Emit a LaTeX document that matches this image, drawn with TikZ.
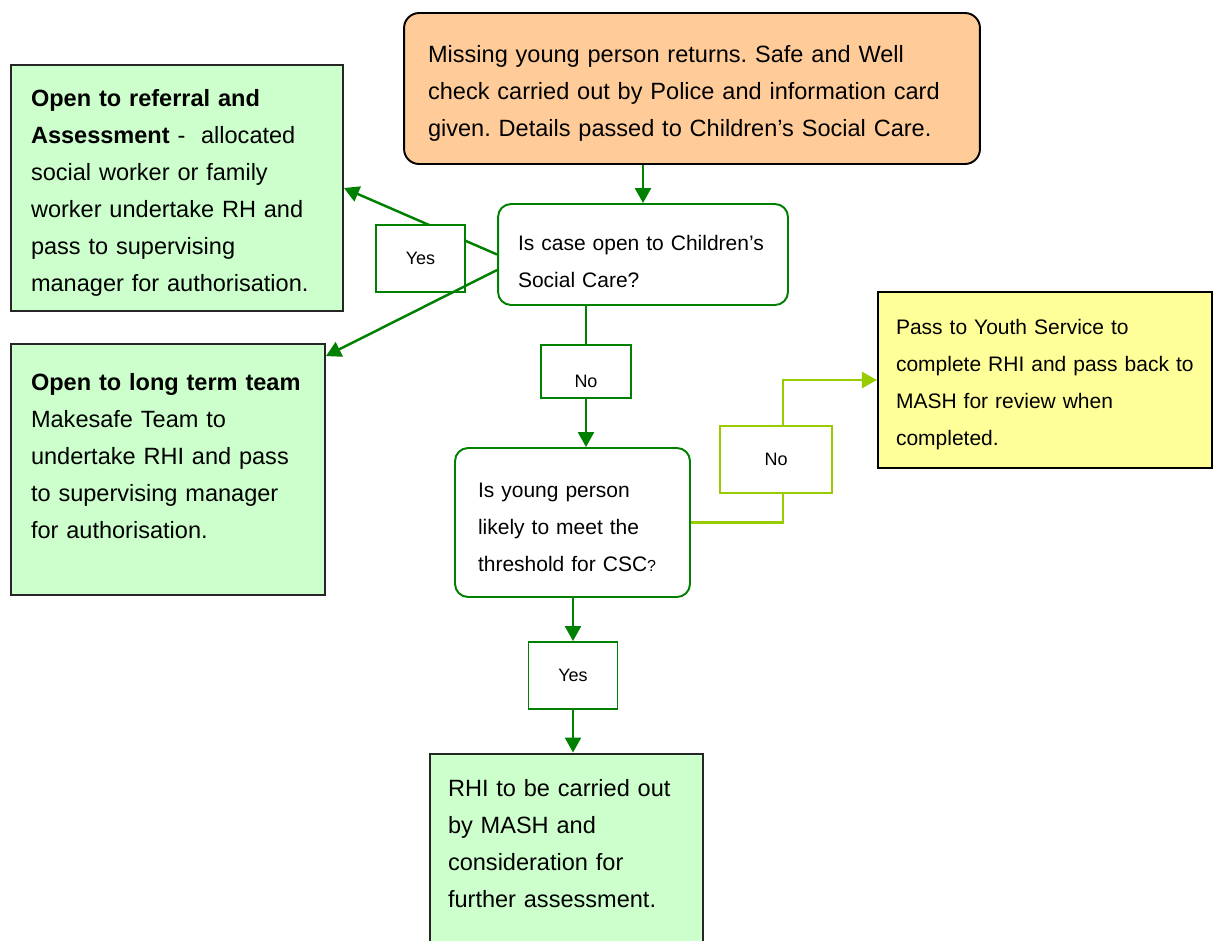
\documentclass[tikz,border=0pt]{standalone}
\usepackage{fontspec}
\setmainfont{Liberation Sans}
\usepackage{xcolor}
\usepackage{tikz}
\usetikzlibrary{arrows.meta,positioning,calc}
\frenchspacing
\definecolor{boxpeach}{RGB}{255,204,153}
\definecolor{boxmint}{RGB}{204,255,204}
\definecolor{boxyellow}{RGB}{255,255,153}
\definecolor{linegreen}{RGB}{0,128,0}
\definecolor{linelime}{RGB}{153,204,0}
\tikzset{
  startbox/.style={
    rectangle,
    rounded corners=0.3cm,
    draw=black,
    line width=1.1pt,
    fill=boxpeach,
    align=left,
    execute at begin node={\rule{0pt}{0.54cm}},
    font=\fontsize{13.4pt}{21.05pt}\selectfont
  },
  mintbox/.style={
    rectangle,
    draw=black!85,
    line width=1.1pt,
    fill=boxmint,
    align=left,
    execute at begin node={\rule{0pt}{0.54cm}},
    font=\fontsize{13.4pt}{21.05pt}\selectfont
  },
  yellowbox/.style={
    rectangle,
    draw=black,
    line width=1.2pt,
    fill=boxyellow,
    align=left,
    execute at begin node={\rule{0pt}{0.5cm}},
    font=\fontsize{11.95pt}{21.05pt}\selectfont
  },
  decision/.style={
    rectangle,
    rounded corners=0.26cm,
    draw=linegreen,
    line width=1.1pt,
    fill=white,
    align=left,
    execute at begin node={\rule{0pt}{0.5cm}},
    font=\fontsize{11.95pt}{21.05pt}\selectfont
  },
  answer/.style={
    rectangle,
    draw=linegreen,
    line width=1.1pt,
    fill=white,
    minimum width=1.78cm,
    minimum height=1.34cm,
    font=\fontsize{10.24pt}{12pt}\selectfont
  },
  link/.style={line width=1.4pt, linegreen},
  flow/.style={-{Triangle[length=0.3cm,width=0.32cm]}, line width=1.4pt, linegreen},
  linklime/.style={line width=1.4pt, linelime},
  flowlime/.style={-{Triangle[length=0.3cm,width=0.32cm]}, line width=1.4pt, linelime}
}
\begin{document}
\begin{tikzpicture}[x=0.02cm, y=-0.02cm]
\useasboundingbox (0,0) rectangle (1213,940);
\node[startbox, minimum width=11.52cm, minimum height=3.02cm, inner xsep=0.48cm, text width=10.56cm] (start) at (692,88.5) {Missing young person returns. Safe and Well\\ check carried out by Police and information card\\ given. Details passed to Children’s Social Care.};
\node[decision, minimum width=5.8cm, minimum height=2.02cm, inner xsep=0.4cm, text width=5cm, execute at begin node={\rule{0pt}{0.58cm}}] (case) at (643,254.5) {Is case open to Children’s\\ Social Care?};
\node[mintbox, minimum width=6.64cm, minimum height=4.92cm, inner xsep=0.4cm, text width=5.84cm] (referral) at (177,188) {\textbf{Open to referral and}\\ \textbf{Assessment} -\ \ allocated\\ social worker or family\\ worker undertake RH and\\ pass to supervising\\ manager for authorisation.};
\node[mintbox, minimum width=6.28cm, minimum height=5.02cm, inner xsep=0.4cm, text width=5.48cm] (longterm) at (168,469.5) {\textbf{Open to long term team}\\ Makesafe Team to\\ undertake RHI and pass\\ to supervising manager\\ for authorisation.\\ \mbox{}};
\node[decision, minimum width=4.7cm, minimum height=2.98cm, inner xsep=0.46cm, text width=3.78cm] (thresh) at (572.5,522.5) {Is young person\\ likely to meet the\\ threshold for CSC{\fontsize{9.1pt}{21pt}\selectfont ?}};
\node[yellowbox, minimum width=6.68cm, minimum height=3.52cm, inner xsep=0.36cm, text width=5.96cm] (youth) at (1045,380) {Pass to Youth Service to\\ complete RHI and pass back to\\ MASH for review when\\ completed.};
\node[mintbox, minimum width=5.46cm, minimum height=4.14cm, inner xsep=0.36cm, text width=4.74cm] (mash) at (566.5,857) {RHI to be carried out\\ by MASH and\\ consideration for\\ further assessment.\\ \mbox{}};

\draw[flow] (start.south -| case.north) -- (case.north);
\draw[flow] (case.west) -- (referral.east);
\node[answer] (yes1) at (420.5,258.5) {Yes};
\draw[flow] ([yshift=-0.31cm]case.west) -- ([yshift=-0.26cm]longterm.north east);

\node[answer, minimum width=1.8cm, minimum height=1.06cm] (no1) at (586,371.5) {\smash{\raisebox{-0.31cm}{No}}};
\draw[link] (no1.north |- case.south) -- (no1.north);
\draw[flow] (no1.south) -- (no1.south |- thresh.north);

\node[answer, draw=linelime, minimum width=2.24cm] (no2) at (776,459.5) {No};
\draw[linklime] (thresh.east) -| ([xshift=0.14cm]no2.south);
\draw[flowlime] ([xshift=0.14cm]no2.north) |- (youth.west);

\node[answer] (yes2) at (573,675.5) {Yes};
\draw[flow] (yes2.north |- thresh.south) -- (yes2.north);
\draw[flow] (yes2.south) -- (yes2.south |- mash.north);
\end{tikzpicture}
\end{document}
